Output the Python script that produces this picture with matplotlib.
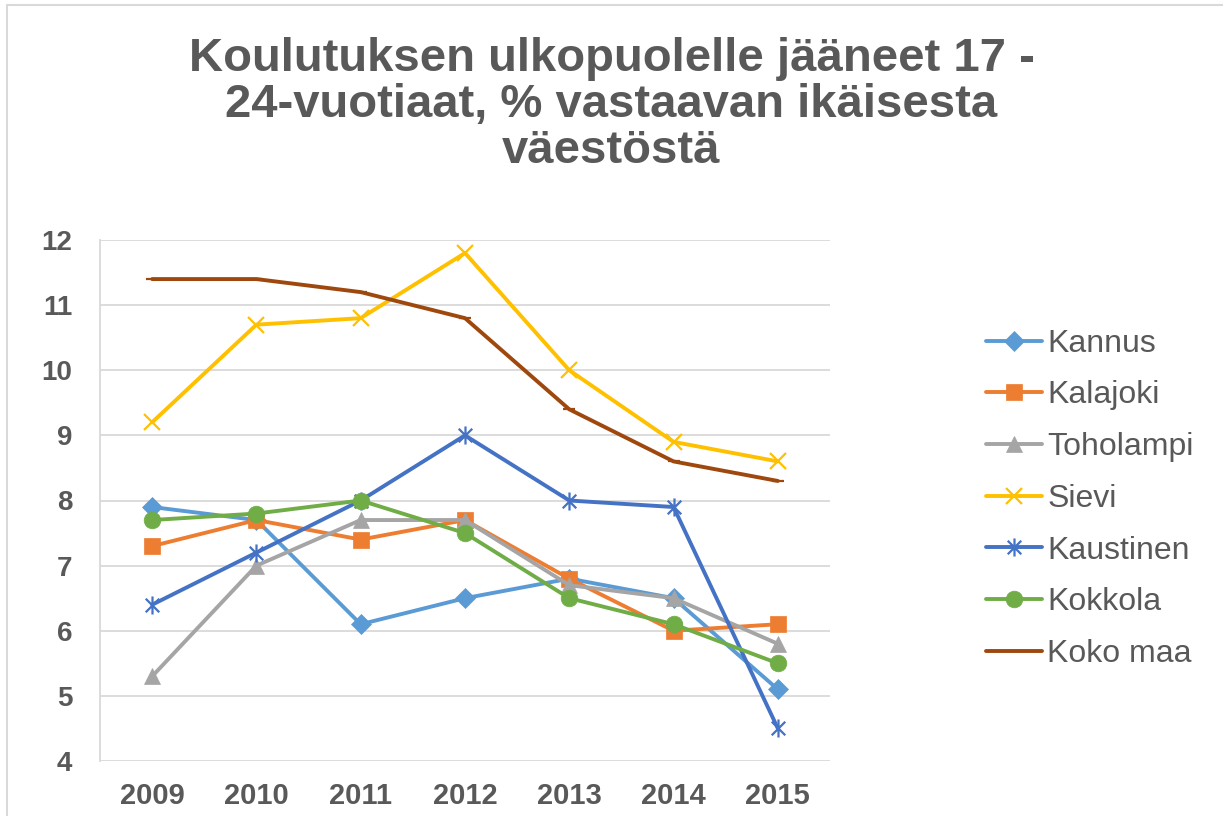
import matplotlib.pyplot as plt
from matplotlib.patches import Rectangle
from matplotlib.path import Path

# data
years = ["2009", "2010", "2011", "2012", "2013", "2014", "2015"]
kannus = [7.9, 7.7, 6.1, 6.5, 6.8, 6.5, 5.1]
kalajoki = [7.3, 7.7, 7.4, 7.7, 6.8, 6.0, 6.1]
toholampi = [5.3, 7.0, 7.7, 7.7, 6.7, 6.5, 5.8]
sievi = [9.2, 10.7, 10.8, 11.8, 10.0, 8.9, 8.6]
kaustinen = [6.4, 7.2, 8.0, 9.0, 8.0, 7.9, 4.5]
kokkola = [7.7, 7.8, 8.0, 7.5, 6.5, 6.1, 5.5]
koko_maa = [11.4, 11.4, 11.2, 10.8, 9.4, 8.6, 8.3]

# excel style star marker: vertical bar plus an x
star = Path([(0, -1), (0, 1), (-0.75, -0.75), (0.75, 0.75), (-0.75, 0.75), (0.75, -0.75)],
            [Path.MOVETO, Path.LINETO] * 3)

series = [
    ("Kannus", kannus, "#5B9BD5", "D", 10),
    ("Kalajoki", kalajoki, "#ED7D31", "s", 11),
    ("Toholampi", toholampi, "#A5A5A5", "^", 12),
    ("Sievi", sievi, "#FFC000", "x", 12),
    ("Kaustinen", kaustinen, "#4472C4", star, 13),
    ("Kokkola", kokkola, "#70AD47", "o", 12),
    ("Koko maa", koko_maa, "#9E480E", "_", 9),
]

text_col = "#595959"
plt.rcParams['font.family'] = ['Liberation Sans', 'DejaVu Sans']

fig = plt.figure(figsize=(12.23, 8.16), dpi=100)
ax = fig.add_axes([100 / 1223, 1 - 761 / 816, 730 / 1223, 521 / 816])

# outer chart border
fig.patches.append(Rectangle((7 / 1223, -0.01), 1.02, 1 - 5 / 816 + 0.01, transform=fig.transFigure,
                             fill=False, edgecolor="#D9D9D9", linewidth=1.5))

x = list(range(len(years)))
for name, vals, col, mk, ms in series:
    stroke = mk in ("x", "_") or mk is star
    ax.plot(x, vals, color=col, linewidth=2.8, marker=mk, markersize=ms,
            markeredgewidth=1.6 if stroke else 0.5, markeredgecolor=col,
            markerfacecolor=col, label=name, solid_capstyle="round")

ax.set_xlim(-0.5, len(years) - 0.5)
ax.set_ylim(4, 12)
ax.set_yticks(range(4, 13))
ax.set_xticks(x)
ax.set_xticklabels(years)
ax.grid(axis="y", color="#D9D9D9", linewidth=1.3)
ax.set_axisbelow(True)
for s in ["top", "right", "bottom"]:
    ax.spines[s].set_visible(False)
ax.spines["left"].set_color("#D9D9D9")
ax.spines["left"].set_linewidth(1.3)
ax.tick_params(axis="y", length=0, labelsize=20, labelcolor=text_col, pad=20)
ax.tick_params(axis="x", length=0, labelsize=21, labelcolor=text_col, pad=15)
for lbl in ax.get_yticklabels() + ax.get_xticklabels():
    lbl.set_fontweight("bold")

fig.text(0.500, 0.955,
         "Koulutuksen ulkopuolelle jääneet 17 -\n24-vuotiaat, % vastaavan ikäisesta\nväestöstä",
         ha="center", va="top", fontsize=34, fontweight="bold", color=text_col,
         linespacing=1.07)

leg = ax.legend(loc="center left", bbox_to_anchor=(1.175, 0.503), frameon=False,
                fontsize=23, handlelength=1.75, handletextpad=0.15, labelspacing=0.68)
for t in leg.get_texts():
    t.set_color(text_col)

fig.savefig("out.png", dpi=100)
